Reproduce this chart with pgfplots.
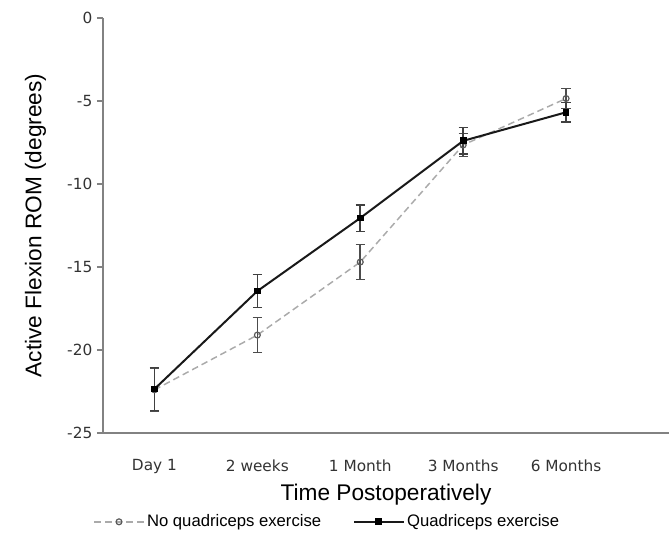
\documentclass[border=0pt]{standalone}
\usepackage{fontspec}
\setmainfont{Liberation Sans}
\newfontfamily\tickfont{DejaVu Sans}
\usepackage{pgfplots}
\pgfplotsset{compat=1.18}

\definecolor{axisgray}{RGB}{130,130,130}
\definecolor{dashgray}{RGB}{170,170,170}

\begin{document}
\begin{tikzpicture}
\begin{axis}[
    scale only axis,
    width=424.5pt,
    height=311.25pt,
    xmin=-0.5, xmax=5,
    ymin=-25, ymax=0,
    axis lines=left,
    axis line style={axisgray, line width=1.8pt, -},
    xtick={0,1,2,3,4},
    xticklabels={Day 1, 2 weeks, 1 Month, 3 Months, 6 Months},
    ytick={-25,-20,-15,-10,-5,0},
    major x tick style={draw=none},
    major y tick style={axisgray, line width=1pt},
    tick align=outside,
    major tick length=4.5pt,
    /pgf/number format/assume math mode=true,
    tick label style={font=\tickfont\fontsize{11.5}{13}\selectfont, black!80},
    x tick label style={yshift=-12pt},
    xlabel={Time Postoperatively},
    ylabel={Active Flexion ROM (degrees)},
    label style={font=\fontsize{17}{20}\selectfont},
    xlabel style={yshift=-1pt},
    ylabel style={yshift=9pt},
    legend style={at={(0.397,-0.214)}, anchor=center, draw=none, fill=none,
        font=\fontsize{12.5}{14}\selectfont, legend columns=2,
        /tikz/every even column/.append style={column sep=22pt}},
    legend image code/.code={\draw[mark repeat=2,mark phase=2,#1]
        plot coordinates {(0cm,0cm) (0.65cm,0cm) (1.3cm,0cm)};},
    clip=false,
]
% No quadriceps exercise (dashed, open circles)
\addplot[dashgray, dash pattern=on 5pt off 3pt, line width=1.1pt,
    mark=o, mark size=2.2pt, mark options={solid, black!65, line width=0.9pt},
    error bars/.cd, y dir=both, y explicit,
    error bar style={black!70, line width=1.2pt, solid},
    error mark options={rotate=90, mark size=3.5pt, black!70, line width=1.2pt}]
coordinates {
    (0,-22.4) +- (0,1.3)
    (1,-19.1) +- (0,1.05)
    (2,-14.7) +- (0,1.05)
    (3,-7.65) +- (0,0.7)
    (4,-4.85) +- (0,0.6)
};
\addlegendentry{No quadriceps exercise}
% Quadriceps exercise (solid, filled squares)
\addplot[black!90, line width=1.5pt,
    mark=square*, mark size=1.8pt, mark options={solid, black},
    error bars/.cd, y dir=both, y explicit,
    error bar style={black!75, line width=1.2pt},
    error mark options={rotate=90, mark size=3.5pt, black!75, line width=1.2pt}]
coordinates {
    (0,-22.35) +- (0,1.3)
    (1,-16.45) +- (0,1.0)
    (2,-12.05) +- (0,0.8)
    (3,-7.4) +- (0,0.8)
    (4,-5.68) +- (0,0.6)
};
\addlegendentry{Quadriceps exercise}
\end{axis}
\pgfresetboundingbox
\path ([xshift=-77.25pt,yshift=-76.5pt]current axis.south west)
    rectangle ([yshift=13.5pt]current axis.north east);
\end{tikzpicture}
\end{document}
